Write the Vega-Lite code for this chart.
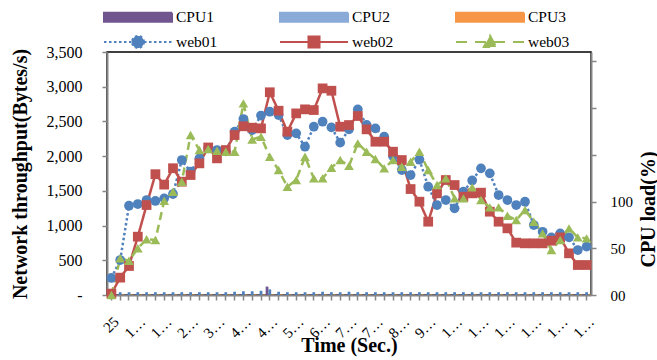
{
  "$schema": "https://vega.github.io/schema/vega-lite/v6.json",
  "width": 484,
  "height": 243,
  "autosize": {"type": "none"},
  "padding": {"left": 107, "top": 52, "right": 66, "bottom": 65},
  "background": "white",
  "config": {
    "font": "Liberation Serif",
    "view": {"stroke": "#000000", "strokeWidth": 1.5},
    "axis": {
      "grid": false,
      "domainColor": "#868686",
      "domainWidth": 2,
      "tickColor": "#868686",
      "tickWidth": 1.5,
      "tickSize": 5,
      "labelFont": "Liberation Serif",
      "labelColor": "#000000",
      "titleFont": "Liberation Serif",
      "titleColor": "#000000",
      "titleFontWeight": "bold",
      "titleFontSize": 20
    }
  },
  "data": {
    "values": [
      {"t": 25, "web01": 245, "web02": 20, "web03": 0, "CPU1": 0.5, "CPU2": 3, "CPU3": 0.5},
      {"t": 50, "web01": 504, "web02": 250, "web03": 528, "CPU1": 0.5, "CPU2": 3, "CPU3": 0.5},
      {"t": 75, "web01": 1286, "web02": 418, "web03": 494, "CPU1": 0.5, "CPU2": 3, "CPU3": 0.5},
      {"t": 100, "web01": 1310, "web02": 840, "web03": 672, "CPU1": 0.5, "CPU2": 3, "CPU3": 0.5},
      {"t": 125, "web01": 1368, "web02": 1296, "web03": 802, "CPU1": 0.5, "CPU2": 3, "CPU3": 0.5},
      {"t": 150, "web01": 1354, "web02": 1740, "web03": 792, "CPU1": 0.5, "CPU2": 3, "CPU3": 0.5},
      {"t": 175, "web01": 1392, "web02": 1590, "web03": 1358, "CPU1": 0.5, "CPU2": 3, "CPU3": 0.5},
      {"t": 200, "web01": 1454, "web02": 1826, "web03": 1488, "CPU1": 0.5, "CPU2": 3, "CPU3": 0.5},
      {"t": 225, "web01": 1944, "web02": 1632, "web03": 1632, "CPU1": 0.5, "CPU2": 3, "CPU3": 0.5},
      {"t": 250, "web01": 1776, "web02": 1728, "web03": 2304, "CPU1": 0.5, "CPU2": 3, "CPU3": 0.5},
      {"t": 275, "web01": 1968, "web02": 1896, "web03": 2088, "CPU1": 0.5, "CPU2": 3, "CPU3": 0.5},
      {"t": 300, "web01": 2112, "web02": 2125, "web03": 2102, "CPU1": 0.5, "CPU2": 3, "CPU3": 0.5},
      {"t": 325, "web01": 2088, "web02": 1968, "web03": 2078, "CPU1": 0.5, "CPU2": 3, "CPU3": 0.5},
      {"t": 350, "web01": 2070, "web02": 2088, "web03": 2064, "CPU1": 0.5, "CPU2": 3, "CPU3": 0.5},
      {"t": 375, "web01": 2352, "web02": 2304, "web03": 2064, "CPU1": 0.5, "CPU2": 3.5, "CPU3": 0.5},
      {"t": 400, "web01": 2534, "web02": 2430, "web03": 2760, "CPU1": 0.5, "CPU2": 4, "CPU3": 0.5},
      {"t": 425, "web01": 2376, "web02": 2410, "web03": 2240, "CPU1": 0.5, "CPU2": 4, "CPU3": 0.5},
      {"t": 450, "web01": 2585, "web02": 2400, "web03": 2280, "CPU1": 0.5, "CPU2": 4.5, "CPU3": 0.5},
      {"t": 475, "web01": 2640, "web02": 2920, "web03": 1990, "CPU1": 9, "CPU2": 6, "CPU3": 0.5},
      {"t": 500, "web01": 2592, "web02": 2654, "web03": 1800, "CPU1": 0.5, "CPU2": 3.5, "CPU3": 0.5},
      {"t": 525, "web01": 2304, "web02": 2352, "web03": 1560, "CPU1": 0.5, "CPU2": 3, "CPU3": 0.5},
      {"t": 550, "web01": 2328, "web02": 2616, "web03": 1656, "CPU1": 0.5, "CPU2": 3, "CPU3": 0.5},
      {"t": 575, "web01": 2136, "web02": 2674, "web03": 1992, "CPU1": 0.5, "CPU2": 3, "CPU3": 0.5},
      {"t": 600, "web01": 2424, "web02": 2664, "web03": 1680, "CPU1": 0.5, "CPU2": 3, "CPU3": 0.5},
      {"t": 625, "web01": 2496, "web02": 2976, "web03": 1680, "CPU1": 0.5, "CPU2": 3.5, "CPU3": 0.5},
      {"t": 650, "web01": 2414, "web02": 2942, "web03": 1834, "CPU1": 0.5, "CPU2": 3, "CPU3": 0.5},
      {"t": 675, "web01": 2194, "web02": 2424, "web03": 1944, "CPU1": 0.5, "CPU2": 3, "CPU3": 0.5},
      {"t": 700, "web01": 2386, "web02": 2448, "web03": 1860, "CPU1": 0.5, "CPU2": 3.5, "CPU3": 0.5},
      {"t": 725, "web01": 2674, "web02": 2578, "web03": 2184, "CPU1": 0.5, "CPU2": 3, "CPU3": 0.5},
      {"t": 750, "web01": 2450, "web02": 2386, "web03": 2064, "CPU1": 0.5, "CPU2": 3, "CPU3": 0.5},
      {"t": 775, "web01": 2400, "web02": 2208, "web03": 1958, "CPU1": 0.5, "CPU2": 3, "CPU3": 0.5},
      {"t": 800, "web01": 2280, "web02": 2208, "web03": 1824, "CPU1": 0.5, "CPU2": 3, "CPU3": 0.5},
      {"t": 825, "web01": 2000, "web02": 2064, "web03": 1944, "CPU1": 0.5, "CPU2": 3, "CPU3": 0.5},
      {"t": 850, "web01": 1800, "web02": 1944, "web03": 1848, "CPU1": 0.5, "CPU2": 3, "CPU3": 0.5},
      {"t": 875, "web01": 1728, "web02": 1526, "web03": 1920, "CPU1": 0.5, "CPU2": 3, "CPU3": 0.5},
      {"t": 900, "web01": 1950, "web02": 1344, "web03": 2064, "CPU1": 0.5, "CPU2": 3, "CPU3": 0.5},
      {"t": 925, "web01": 1560, "web02": 1056, "web03": 1800, "CPU1": 0.5, "CPU2": 3, "CPU3": 0.5},
      {"t": 950, "web01": 1296, "web02": 1464, "web03": 1584, "CPU1": 0.5, "CPU2": 3, "CPU3": 0.5},
      {"t": 975, "web01": 1368, "web02": 1656, "web03": 1680, "CPU1": 0.5, "CPU2": 3, "CPU3": 0.5},
      {"t": 1000, "web01": 1248, "web02": 1584, "web03": 1392, "CPU1": 0.5, "CPU2": 3, "CPU3": 0.5},
      {"t": 1025, "web01": 1488, "web02": 1416, "web03": 1392, "CPU1": 0.5, "CPU2": 3, "CPU3": 0.5},
      {"t": 1050, "web01": 1650, "web02": 1464, "web03": 1550, "CPU1": 0.5, "CPU2": 3, "CPU3": 0.5},
      {"t": 1075, "web01": 1824, "web02": 1474, "web03": 1368, "CPU1": 0.5, "CPU2": 3, "CPU3": 0.5},
      {"t": 1100, "web01": 1752, "web02": 1200, "web03": 1262, "CPU1": 0.5, "CPU2": 3, "CPU3": 0.5},
      {"t": 1125, "web01": 1440, "web02": 1056, "web03": 1262, "CPU1": 0.5, "CPU2": 3, "CPU3": 0.5},
      {"t": 1150, "web01": 1368, "web02": 960, "web03": 1142, "CPU1": 0.5, "CPU2": 3, "CPU3": 0.5},
      {"t": 1175, "web01": 1296, "web02": 754, "web03": 1080, "CPU1": 0.5, "CPU2": 3, "CPU3": 0.5},
      {"t": 1200, "web01": 1344, "web02": 744, "web03": 1224, "CPU1": 0.5, "CPU2": 3, "CPU3": 0.5},
      {"t": 1225, "web01": 1008, "web02": 744, "web03": 1056, "CPU1": 0.5, "CPU2": 3, "CPU3": 0.5},
      {"t": 1250, "web01": 910, "web02": 744, "web03": 888, "CPU1": 0.5, "CPU2": 3, "CPU3": 0.5},
      {"t": 1275, "web01": 830, "web02": 782, "web03": 648, "CPU1": 0.5, "CPU2": 3, "CPU3": 0.5},
      {"t": 1300, "web01": 888, "web02": 830, "web03": 792, "CPU1": 0.5, "CPU2": 3, "CPU3": 0.5},
      {"t": 1325, "web01": 830, "web02": 600, "web03": 960, "CPU1": 0.5, "CPU2": 3, "CPU3": 0.5},
      {"t": 1350, "web01": 648, "web02": 432, "web03": 830, "CPU1": 0.5, "CPU2": 3, "CPU3": 0.5},
      {"t": 1375, "web01": 696, "web02": 432, "web03": 816, "CPU1": 0.5, "CPU2": 3, "CPU3": 0.5}
    ]
  },
  "encoding": {
    "x": {
      "field": "t",
      "type": "ordinal",
      "scale": {"type": "band", "paddingInner": 0, "paddingOuter": 0},
      "axis": {
        "title": "Time (Sec.)",
        "labelAngle": -45,
        "labelFontSize": 15,
        "labelOverlap": false,
        "labelPadding": 14,
        "titleBaseline": "middle",
        "titleY": 50,
        "labelExpr": "(datum.value - 25) % 75 == 0 ? (datum.value < 100 ? datum.label : substring(datum.label, 0, 1) + '…') : ''"
      }
    }
  },
  "layer": [
    {
      "transform": [{"fold": ["CPU1", "CPU2", "CPU3"], "as": ["series", "v"]}],
      "mark": {"type": "bar"},
      "encoding": {
        "xOffset": {
          "field": "series",
          "type": "nominal",
          "scale": {"domain": ["CPU1", "CPU2", "CPU3"], "paddingInner": 0, "paddingOuter": 0.1}
        },
        "y": {
          "field": "v",
          "type": "quantitative",
          "scale": {"domain": [0, 260]},
          "axis": {
            "orient": "right",
            "title": "CPU load(%)",
            "values": [0, 50, 100, 150, 200, 250],
            "labelExpr": "datum.value == 0 ? '00' : (datum.value <= 100 ? datum.label : '')",
            "labelFontSize": 15,
            "labelPadding": 14,
            "titleAngle": -90,
            "titleAlign": "center",
            "titleBaseline": "middle",
            "titleX": 57,
            "titleY": 157
          }
        },
        "fill": {
          "field": "series",
          "type": "nominal",
          "scale": {"domain": ["CPU1", "CPU2", "CPU3"], "range": ["#71558F", "#4F81BD", "#F79646"]},
          "legend": null
        }
      }
    },
    {
      "transform": [{"fold": ["web01", "web02", "web03"], "as": ["series", "v"]}],
      "encoding": {
        "y": {
          "field": "v",
          "type": "quantitative",
          "scale": {"domain": [0, 3500]},
          "axis": {
            "orient": "left",
            "title": "Network throughput(Bytes/s)",
            "values": [0, 500, 1000, 1500, 2000, 2500, 3000, 3500],
            "labelExpr": "datum.value == 0 ? '-' : format(datum.value, ',')",
            "labelFontSize": 16,
            "labelPadding": 20,
            "titleAngle": -90,
            "titleAlign": "center",
            "titleBaseline": "middle",
            "titleX": -87,
            "titleY": 121.5
          }
        },
        "color": {
          "field": "series",
          "type": "nominal",
          "scale": {
            "domain": ["CPU1", "CPU2", "CPU3", "web01", "web02", "web03"],
            "range": ["#71558F", "#8AABD8", "#F79646", "#4F81BD", "#C0504D", "#9BBB59"]
          },
          "legend": {
            "title": null,
            "orient": "none",
            "direction": "horizontal",
            "legendX": -3,
            "legendY": -44,
            "columns": 3,
            "columnPadding": 58,
            "rowPadding": 5,
            "symbolSize": 256,
            "symbolStrokeWidth": 2,
            "symbolOffset": 25,
            "labelOffset": 29,
            "labelFont": "Liberation Serif",
            "labelFontSize": 15.5,
            "labelColor": "#000000",
            "labelLimit": 200,
            "values": ["CPU1", "CPU2", "CPU3", "web01", "web02", "web03"],
            "encoding": {
              "symbols": {
                "shape": {"value": {"expr": "indexof(['CPU1','CPU2','CPU3'], datum.value) >= 0 ? 'M-4.25,-0.55H4.25V0.55H-4.25Z' : datum.value == 'web01' ? 'M-4.25,0H4.25M0.75,0A0.75,0.75,0,1,1,-0.75,0A0.75,0.75,0,1,1,0.75,0Z' : datum.value == 'web02' ? 'M-4.25,0H4.25M-0.69,-0.69H0.69V0.69H-0.69Z' : 'M-4.25,0H4.25M0,-0.8L0.78,0.62H-0.78Z'"}},
                "strokeDash": {"value": {"expr": "datum.value == 'web01' ? [2.5, 2.5] : datum.value == 'web03' ? [11, 8] : [1, 0]"}},
                "opacity": {"value": 1}
              }
            }
          }
        }
      },
      "layer": [
        {
          "mark": {"type": "line", "strokeWidth": 2.5},
          "encoding": {
            "strokeDash": {
              "field": "series",
              "type": "nominal",
              "scale": {"domain": ["web01", "web02", "web03"], "range": [[2.5, 2.5], [1, 0], [8, 5]]},
              "legend": null
            }
          }
        },
        {
          "mark": {"type": "point", "filled": true, "opacity": 1, "size": 95},
          "encoding": {
            "shape": {
              "field": "series",
              "type": "nominal",
              "scale": {"domain": ["web01", "web02", "web03"], "range": ["circle", "square", "triangle-up"]},
              "legend": null
            }
          }
        }
      ]
    }
  ],
  "resolve": {"scale": {"y": "independent"}}
}
